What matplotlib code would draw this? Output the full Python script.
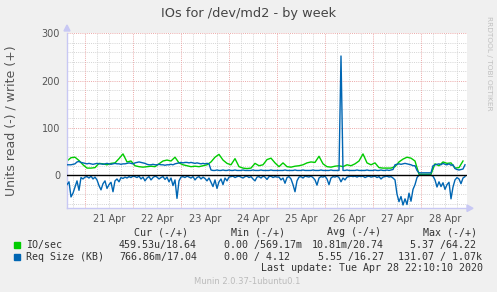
import matplotlib
matplotlib.use("Agg")
import matplotlib.pyplot as plt
from matplotlib.patches import Polygon, Rectangle
import numpy as np

# ---------------- data ----------------
title = "IOs for /dev/md2 - by week"
ylabel = "Units read (-) / write (+)"
day_labels = ["21 Apr", "22 Apr", "23 Apr", "24 Apr", "25 Apr", "26 Apr", "27 Apr", "28 Apr"]
y_major = [0, 100, 200, 300]

# IO/sec write (+), 2-hourly samples starting Apr 20 15:00
io_write = [30, 37, 38, 31, 22,
            15, 15, 16, 25, 24, 22, 25, 26, 35, 45, 28, 30,
            20, 18, 17, 18, 19, 18, 24, 30, 32, 30, 38, 26,
            22, 20, 18, 19, 18, 20, 22, 28, 38, 44, 32, 25,
            22, 35, 18, 15, 14, 15, 25, 20, 22, 33, 36, 26,
            18, 26, 18, 17, 19, 20, 22, 26, 28, 27, 40, 24,
            18, 17, 19, 20, 18, 22, 20, 24, 30, 45, 26, 22,
            26, 16, 15, 15, 15, 18, 28, 34, 38, 36, 30, 2,
            2, 2, 2, 24, 20, 28, 25, 26, 15, 16, 30]

# Req Size write (+), hourly samples starting Apr 20 15:00
req_write = [22, 22, 22, 23, 24, 28, 29, 27, 26, 25,
             24, 25, 24, 23, 24, 25, 24, 24, 23, 24, 25, 24, 23, 24, 25, 24, 24, 23, 24, 24, 25, 26, 25, 24,
             26, 27, 28, 27, 26, 25, 23, 22, 22, 23, 22, 22, 23, 22, 22, 21, 22, 22, 23, 22, 24, 25, 26, 27,
             26, 27, 27, 26, 27, 26, 25, 26, 25, 24, 25, 24, 25, 24, 11, 10, 10, 11, 10, 10, 11, 10, 10, 11,
             10, 10, 11, 10, 10, 10, 11, 10, 10, 10, 10, 11, 10, 10, 10, 11, 10, 10, 10, 10, 11, 10, 10, 10,
             10, 10, 10, 11, 10, 10, 10, 10, 11, 10, 10, 10, 11, 10, 10, 10, 10, 11, 10, 10, 10, 11, 10, 10,
             10, 10, 11, 10, 10, 10, 10, 252, 10, 10, 11, 10, 10, 10, 10, 11, 10, 10, 10, 10, 11, 10, 10, 10,
             11, 10, 10, 11, 10, 10, 11, 10, 11, 12, 22, 23, 24, 23, 24, 25, 24, 23, 22, 20, 20, 10, 5, 5,
             5, 5, 5, 5, 5, 20, 22, 23, 24, 22, 25, 23, 22, 24, 21, 22, 14, 12, 11, 12, 13, 22]

# Req Size read (drawn as -), hourly samples starting Apr 20 15:00
req_read = [20, 14, 46, 38, 25, 12, 32, 5, 8, 4,
            3, 6, 2, 8, 4, 10, 22, 31, 18, 12, 28, 20, 15, 35, 12, 8, 14, 5, 7, 4, 6, 3, 5, 2,
            3, 5, 2, 8, 4, 12, 6, 3, 10, 5, 2, 4, 8, 5, 3, 9, 4, 14, 6, 22, 10, 49, 12, 4,
            3, 5, 2, 4, 6, 3, 10, 5, 3, 8, 4, 7, 12, 6, 15, 24, 10, 28, 14, 8, 20, 6, 12, 4,
            3, 2, 5, 3, 2, 4, 6, 3, 2, 5, 3, 8, 12, 4, 3, 6, 2, 4, 9, 3, 2, 5, 3, 4,
            4, 10, 6, 17, 5, 3, 8, 20, 35, 12, 4, 3, 6, 2, 3, 4, 2, 5, 10, 21, 6, 3, 4, 2,
            8, 20, 6, 3, 4, 2, 5, 14, 6, 10, 4, 3, 2, 3, 2, 4, 2, 3, 2, 5, 3, 2, 4, 3,
            2, 5, 3, 8, 4, 3, 2, 4, 3, 6, 10, 40, 56, 45, 63, 50, 62, 38, 55, 30, 20, 5, 0, 0,
            0, 0, 0, 0, 0, 2, 10, 25, 14, 24, 16, 30, 20, 15, 50, 25, 10, 5, 8, 18, 6, 3]

legend_names = ["IO/sec", "Req Size (KB)"]
legend_colors = ["#00CC00", "#0066B3"]
stat_headers = ["Cur (-/+)", "Min (-/+)", "Avg (-/+)", "Max (-/+)"]
stats_io = ["459.53u/18.64", "0.00 /569.17m", "10.81m/20.74", "5.37 /64.22"]
stats_req = ["766.86m/17.04", "0.00 / 4.12", "5.55 /16.27", "131.07 / 1.07k"]
last_update = "Last update: Tue Apr 28 22:10:10 2020"
munin_ver = "Munin 2.0.37-1ubuntu0.1"

# time axis: hours since Apr 21 00:00 (first sample Apr 20 15:00)
t_io = np.arange(len(io_write)) * 2 - 9
t_req = np.arange(len(req_write)) - 9

# ---------------- figure ----------------
W, H = 497, 292
fig = plt.figure(figsize=(W / 100, H / 100), dpi=100, facecolor="#F0F0F0")

def fx(x):
    return x / W

def fy(y):
    return 1 - y / H

ax_left, ax_right, ax_top, ax_bot = 67, 467, 33.3, 208.3
ax = fig.add_axes([fx(ax_left), fy(ax_bot), (ax_right - ax_left) / W, (ax_bot - ax_top) / H])
ax.set_facecolor("white")
ax.set_xlim(-9, 191)
ax.set_ylim(-70, 300)

# grid
minor_c = "#D4D4D4"
major_c = "#EBA8A8"
dot = (0, (1, 1.2))
for yv in range(-60, 301, 20):
    if yv % 100 == 0:
        continue
    ax.axhline(yv, color=minor_c, lw=0.7, ls=dot, zorder=0)
for hv in range(-6, 191, 6):
    if hv % 24 == 0:
        continue
    ax.axvline(hv, color=minor_c, lw=0.7, ls=dot, zorder=0)
for yv in y_major[1:]:
    ax.axhline(yv, color=major_c, lw=0.7, ls=dot, zorder=0.5)
for hv in range(0, 191, 24):
    ax.axvline(hv, color=major_c, lw=0.7, ls=dot, zorder=0.5)

# data
ax.plot(t_io, io_write, color=legend_colors[0], lw=1.0, zorder=2)
ax.plot(t_req, -np.asarray(req_read), color=legend_colors[1], lw=1.0, zorder=3)
ax.plot(t_req, req_write, color=legend_colors[1], lw=1.0, zorder=3)
ax.axhline(0, color="black", lw=1.0, zorder=4)

# ticks
ax.set_yticks(y_major)
ax.set_yticklabels([str(v) for v in y_major])
ax.set_xticks([12 + 24 * i for i in range(len(day_labels))])
ax.set_xticklabels(day_labels)
ax.tick_params(length=0, labelsize=7, colors="#555555", pad=4)
ax.tick_params(axis="y", pad=5)

for s in ["top", "right"]:
    ax.spines[s].set_visible(False)
for s in ["left", "bottom"]:
    ax.spines[s].set_color("#C8C8F4")
    ax.spines[s].set_linewidth(1.0)

# axis arrows
ac = "#C8C8F4"
fig.add_artist(Polygon([(fx(64), fy(31)), (fx(70), fy(31)), (fx(67), fy(25))],
                       closed=True, color=ac, transform=fig.transFigure))
fig.add_artist(Polygon([(fx(467), fy(205)), (fx(467), fy(211.5)), (fx(473), fy(208.3))],
                       closed=True, color=ac, transform=fig.transFigure))

# titles
fig.text(fx(248.5), fy(14), title, ha="center", va="center", fontsize=9.3, color="#444444")
fig.text(fx(11), fy(120.5), ylabel, ha="center", va="center", rotation=90,
         fontsize=9, color="#555555")
fig.text(fx(489), fy(63), "RRDTOOL / TOBI OETIKER", ha="center", va="center",
         rotation=270, fontsize=5.3, color="#C0C0C0")

# legend
mono = dict(family="DejaVu Sans Mono", fontsize=7.2, color="#333333", va="center")
for xh, hd in zip([134, 231, 327, 423], stat_headers):
    fig.text(fx(xh), fy(232.3), hd, ha="left", **mono)
row_y = [245, 256.7]
for i, (name, col, stats, xs) in enumerate(zip(
        legend_names, legend_colors, [stats_io, stats_req],
        [[119, 224, 312, 410], [119, 224, 318, 398]])):
    fig.add_artist(Rectangle((fx(14), fy(row_y[i] + 3)), 6 / W, 6 / H,
                             color=col, transform=fig.transFigure))
    fig.text(fx(26), fy(row_y[i]), name, ha="left", **mono)
    for x0, s in zip(xs, stats):
        fig.text(fx(x0), fy(row_y[i]), s, ha="left", **mono)
fig.text(fx(261), fy(268.3), last_update, ha="left", **mono)
fig.text(fx(247.5), fy(281), munin_ver, ha="center", va="center", fontsize=6,
         color="#BBBBBB")

fig.savefig("out.png", dpi=100, facecolor=fig.get_facecolor())
